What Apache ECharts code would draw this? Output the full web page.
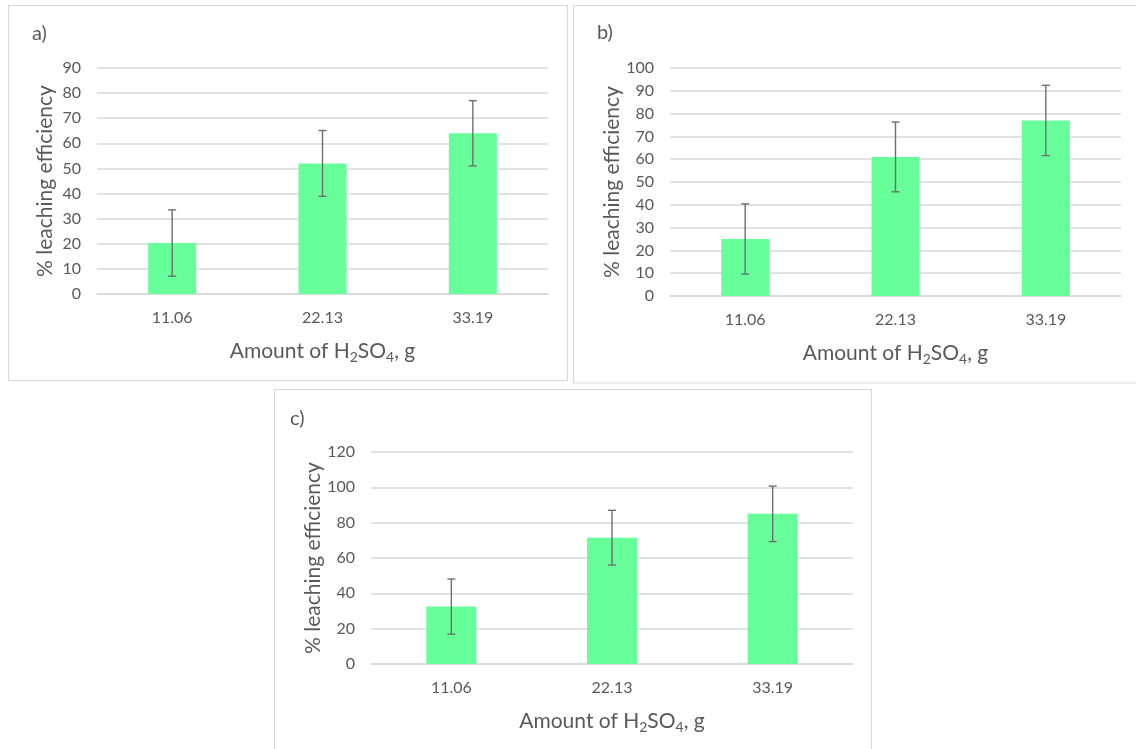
<!DOCTYPE html>
<html>
<head>
<meta charset="utf-8">
<style>
  html, body { margin: 0; padding: 0; background: #ffffff; }
  #chart { width: 1136px; height: 749px; }
</style>
<script src="https://cdn.jsdelivr.net/npm/echarts@6/dist/echarts.min.js"></script>
</head>
<body>
<div id="chart"></div>
<script>
// Amount of sulfuric acid added (g)
const categories = ['11.06', '22.13', '33.19'];

// Mean leaching efficiency (%) and standard deviation for each panel
const valuesA = [20.3, 52, 64];
const errorsA = [13.2, 13.1, 13.0];
const valuesB = [25, 61, 77];
const errorsB = [15.4, 15.3, 15.4];
const valuesC = [32.5, 71.5, 85];
const errorsC = [15.6, 15.5, 15.7];

// Y-axis ranges per panel
const yMaxA = 90, yStepA = 10;
const yMaxB = 100, yStepB = 10;
const yMaxC = 120, yStepC = 20;

const panelLabels = ['a)', 'b)', 'c)'];

const TEXT = '#595959';
const GRID = '#d9d9d9';
const BAR = '#66ff99';
const ERR = '#6e6e6e';
const FONT = 'Lato, "Open Sans", sans-serif';

const chart = echarts.init(document.getElementById('chart'), null, { renderer: 'canvas' });

const grids = [
  { left: 97, top: 68, width: 451, height: 226 },
  { left: 670, top: 68, width: 451, height: 228 },
  { left: 371, top: 452, width: 482, height: 212 }
];

function xAxisFor(i) {
  return {
    type: 'category',
    gridIndex: i,
    data: categories,
    axisLine: { show: true, lineStyle: { color: GRID, width: 1.5 } },
    axisTick: { show: false },
    axisLabel: { color: TEXT, fontSize: 16, fontFamily: FONT, margin: 16 },
    name: 'Amount of H{sub|2}SO{sub|4}, g',
    nameLocation: 'middle',
    nameGap: 44,
    nameTextStyle: {
      color: TEXT, fontSize: 21, fontFamily: FONT,
      rich: { sub: { fontSize: 14, color: TEXT, fontFamily: FONT, verticalAlign: 'bottom', padding: [12, 0, 0, 0] } }
    }
  };
}

function yAxisFor(i, max, step) {
  return {
    type: 'value',
    gridIndex: i,
    min: 0,
    max: max,
    interval: step,
    axisLine: { show: false },
    axisTick: { show: false },
    splitLine: { show: true, lineStyle: { color: GRID, width: 1.5 } },
    axisLabel: { color: TEXT, fontSize: 16, fontFamily: FONT, margin: 16 },
    name: '% leaching efficiency',
    nameLocation: 'middle',
    nameGap: 41,
    nameTextStyle: { color: TEXT, fontSize: 21, fontFamily: FONT }
  };
}

function barSeries(i, values, width) {
  return {
    type: 'bar',
    xAxisIndex: i,
    yAxisIndex: i,
    data: values,
    barWidth: width,
    itemStyle: { color: BAR },
    silent: true,
    z: 2
  };
}

function errorSeries(i, values, errors) {
  const data = values.map((v, k) => [k, v - errors[k], v + errors[k]]);
  return {
    type: 'custom',
    xAxisIndex: i,
    yAxisIndex: i,
    data: data,
    silent: true,
    z: 3,
    renderItem: function (params, api) {
      const lo = api.coord([api.value(0), api.value(1)]);
      const hi = api.coord([api.value(0), api.value(2)]);
      const cap = 4;
      const style = { stroke: ERR, lineWidth: 1.4 };
      return {
        type: 'group',
        children: [
          { type: 'line', shape: { x1: lo[0], y1: lo[1], x2: hi[0], y2: hi[1] }, style: style },
          { type: 'line', shape: { x1: lo[0] - cap, y1: lo[1], x2: lo[0] + cap, y2: lo[1] }, style: style },
          { type: 'line', shape: { x1: hi[0] - cap, y1: hi[1], x2: hi[0] + cap, y2: hi[1] }, style: style }
        ]
      };
    }
  };
}

// Panel frames and letters
const frames = [
  { x: 8.5, y: 5.5, w: 559, h: 375 },
  { x: 573.5, y: 5.5, w: 570, h: 377.5 },
  { x: 274.5, y: 389.5, w: 597, h: 370 }
];
const letterPos = [[32, 34], [597, 33], [290, 419]];

const graphics = [];
frames.forEach(f => {
  graphics.push({
    type: 'rect', silent: true, z: -1,
    shape: { x: f.x, y: f.y, width: f.w, height: f.h },
    style: { fill: '#ffffff', stroke: GRID, lineWidth: 1.2 }
  });
});
panelLabels.forEach((t, k) => {
  graphics.push({
    type: 'text', silent: true,
    x: letterPos[k][0], y: letterPos[k][1],
    style: { text: t, fill: TEXT, font: '20px ' + FONT, textVerticalAlign: 'middle' }
  });
});

chart.setOption({
  backgroundColor: '#ffffff',
  animation: false,
  grid: grids.map(g => Object.assign({ containLabel: false }, g)),
  xAxis: [xAxisFor(0), xAxisFor(1), xAxisFor(2)],
  yAxis: [yAxisFor(0, yMaxA, yStepA), yAxisFor(1, yMaxB, yStepB), yAxisFor(2, yMaxC, yStepC)],
  series: [
    barSeries(0, valuesA, 48), errorSeries(0, valuesA, errorsA),
    barSeries(1, valuesB, 48), errorSeries(1, valuesB, errorsB),
    barSeries(2, valuesC, 50), errorSeries(2, valuesC, errorsC)
  ],
  graphic: graphics
});
</script>
</body>
</html>
